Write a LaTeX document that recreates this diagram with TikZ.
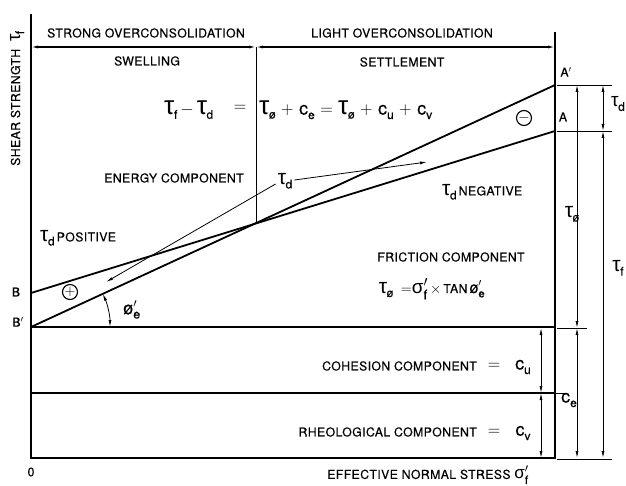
\documentclass[tikz,border=0pt]{standalone}
\usepackage{amsmath}
\usepackage{fontspec}
\setmainfont{TeX Gyre Heros}[FakeBold=0.4,LetterSpace=3]
\newfontfamily\gk{Liberation Sans}
\usetikzlibrary{arrows.meta,calc}
% large tau with upright subscript
\newcommand{\tauu}[2][21]{{\gk\fontsize{#1}{#1}\selectfont τ}\kern-0.5pt\raisebox{-4pt}{\fontsize{12}{12}\selectfont #2}}
\newcommand{\csub}[2][18]{{\fontsize{#1}{#1}\selectfont c}\raisebox{-4.5pt}{\fontsize{12}{12}\selectfont #2}}
\newcommand{\sigf}[1][19]{{\fontsize{#1}{#1}\selectfont$\text{\gk σ}'_{\text{f}}$}}
\newcommand{\phe}[1][16]{{\fontsize{#1}{#1}\selectfont$\text{ø}'_{\text{e}}$}}
\newcommand{\gp}{\hspace{5.5pt}}
\tikzset{
  lab/.style={font=\fontsize{12.3}{14}\selectfont, inner sep=0pt},
  eqf/.style={font=\fontsize{18}{20}\selectfont, inner sep=0pt},
  thk/.style={line width=1.8pt},
  med/.style={line width=1.3pt},
  thn/.style={line width=0.8pt},
  tip/.tip={Latex[length=7pt,width=3pt]},
  dimln/.style={line width=0.8pt, tip-tip},
  sgn/.style={draw, circle, line width=1.1pt, minimum size=15pt, inner sep=0pt, font=\fontsize{14}{14}\selectfont}
}
\begin{document}
\begin{tikzpicture}[x=1pt,y=-1pt]
\useasboundingbox (0,0) rectangle (626,486);
% key points
\coordinate (Otop) at (31,14);
\coordinate (O) at (31,458);
\coordinate (Rbot) at (555,458);
\coordinate (Rtop) at (555,32);
\coordinate (B) at (31,293);
\coordinate (Bp) at (31,327);
\coordinate (A) at (555,131);
\coordinate (Ap) at (555,85);
\coordinate (Bpr) at (555,327);
\coordinate (M) at (31,393);
\coordinate (Mr) at (555,393);
\coordinate (X) at (256,223);
\coordinate (Tl) at (31,47);
\coordinate (Tm) at (256,47);
\coordinate (Tr) at (555,47);
% frame
\draw[thk] (Otop) -- (O) -- (Rbot) -- (Rtop);
\draw[thk] (Bp) -- (Bpr);
\draw[med] (M) -- (Mr);
\draw[thk] (Bp) -- (Ap);
\draw[thk] (B) -- (A);
\draw[thn] (Tm) -- (X);
\draw[line width=1.1pt, tip-tip] (Tl) -- (Tm);
\draw[line width=1.1pt, tip-tip] (Tm) -- (Tr);
% right-hand ticks
\coordinate (t1a) at (557,85);  \coordinate (t1b) at (612,85);
\coordinate (t2a) at (557,131); \coordinate (t2b) at (612,131);
\coordinate (t3a) at (557,328); \coordinate (t3b) at (587,328);
\coordinate (t4b) at (566,393);
\coordinate (t5a) at (557,459); \coordinate (t5b) at (612,459);
\draw[thn] (t1a) -- (t1b);
\draw[thn] (t2a) -- (t2b);
\draw[thn] (t3a) -- (t3b);
\draw[thn] (Mr) -- (t4b);
\draw[thn] (t5a) -- (t5b);
% dimension lines
\coordinate (d1a) at (577,85);  \coordinate (d1b) at (577,328); \coordinate (d1c) at (577,458);
\coordinate (d2a) at (603,85);  \coordinate (d2b) at (603,131); \coordinate (d2c) at (603,458);
\coordinate (d3a) at (541,328); \coordinate (d3b) at (541,393); \coordinate (d3c) at (541,458);
\draw[dimln] (d1a) -- (d1b);
\draw[dimln] (d1b) -- (d1c);
\draw[dimln] (d2a) -- (d2b);
\draw[dimln] (d2b) -- (d2c);
\draw[dimln] (d3a) -- (d3b);
\draw[dimln] (d3b) -- (d3c);
% angle arc
\draw[thn, tip-tip] ($(Bp)+(79,0)$) arc[start angle=0, end angle=-24.8, radius=79];
% top labels
\node[lab] (strong) at (146,33) {STRONG OVERCONSOLIDATION};
\node[lab] (light) at (402,33) {LIGHT OVERCONSOLIDATION};
\node[lab] (swell) at (147,61) {SWELLING};
\node[lab] (settle) at (402,62) {SETTLEMENT};
\node[lab, rotate=90, anchor=base west] (shear) at (20,166) {SHEAR STRENGTH\ \ \tauu[19]{f}};
% equation
\node[eqf, anchor=west] (lhs) at (164,110) {\tauu[26]{f}\,$-$\,\tauu[26]{d}};
\node[eqf] (eq1) at (240,108) {$=$};
\node[eqf, anchor=west] (rhs) at (259,110) {\tauu[26]{ø}\gp$+$\gp\csub{e}\gp$=$\gp\tauu[26]{ø}\gp$+$\gp\csub{u}\gp$+$\gp\csub{v}};
% signs
\node[sgn] (minus) at (524,118) {$-$};
\node[sgn] (plus) at (70,292) {$+$};
% energy
\node[lab] (energy) at (174,178) {ENERGY COMPONENT};
\node[inner sep=0pt] (td) at (285,181) {\tauu{d}};
\coordinate (tdl) at (106,282);
\coordinate (tdr) at (427,162);
\draw[thn, -tip] (td.west) ++(-2,3) -- (tdl);
\draw[thn, -tip] (td.east) ++(2,-1) -- (tdr);
\node[lab, anchor=west] (neg) at (442,192) {\tauu{d}\,NEGATIVE};
\node[lab, anchor=west] (pos) at (40,238) {\tauu{d}\,POSITIVE};
\node[lab] (fric) at (451,257) {FRICTION COMPONENT};
\node[lab] (fform) at (432,289) {\tauu{ø}\ \ {\fontsize{14}{14}\selectfont$=$}\sigf\,{\fontsize{14}{14}\selectfont$\times$}\,TAN\,\phe};
\node[inner sep=0pt] (phie) at (132,310) {\phe[18]};
% letters
\node[lab] (Lb) at (16,292) {B};
\node[lab] (Lbp) at (18,322) {B$'$};
\node[lab] (La) at (563,117) {A};
\node[lab] (Lap) at (566,72) {A$'$};
\node[lab] (Lo) at (31,472) {0};
% lower components
\node[lab, anchor=east] (coh) at (477,366) {COHESION COMPONENT};
\node[eqf] (ceq1) at (494,366) {$=$};
\node[inner sep=0pt] (cu) at (523,367) {\csub{u}};
\node[lab, anchor=east] (rheo) at (477,432) {RHEOLOGICAL COMPONENT};
\node[eqf] (ceq2) at (494,432) {$=$};
\node[inner sep=0pt] (cv) at (523,433) {\csub{v}};
% right-hand labels
\node[inner sep=0pt] (ce) at (569,400) {\csub{e}};
\node[inner sep=0pt] (tphi) at (572,214) {\tauu{ø}};
\node[inner sep=0pt] (tdR) at (618,104) {\tauu[19]{d}};
\node[inner sep=0pt] (tfR) at (618,268) {\tauu{f}};
% x-axis label
\node[lab] (xlab) at (428,475) {EFFECTIVE NORMAL STRESS \sigf[17]};
\end{tikzpicture}
\end{document}
